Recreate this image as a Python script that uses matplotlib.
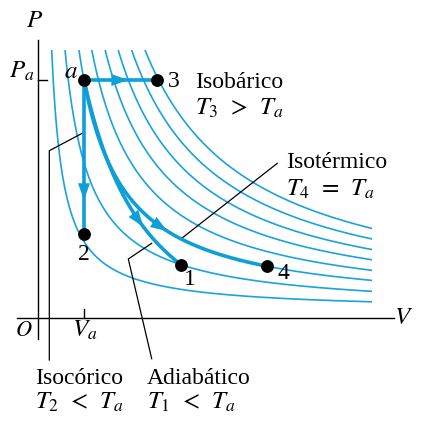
import numpy as np
import matplotlib
matplotlib.use('Agg')
import matplotlib.pyplot as plt

plt.rcParams['font.family'] = ['Liberation Serif', 'DejaVu Serif']
plt.rcParams['mathtext.fontset'] = 'stix'

# ---------------- data (schematic units) ----------------
isotherm_k = [30.5, 65.3, 101.6, 135.0, 170.0, 204.0, 239.0, 274.0]
P_top = 26.1        # isotherms start at this pressure
V_end = 33.2        # isotherms end at this volume
Va, Pa = 4.4, 23.1  # state a
V3 = 11.7           # isobaric end
P2 = 7.7            # isochoric end
V1 = 14.1           # adiabatic end
V4 = 22.7           # isothermal end
# drawn adiabat: (V + v_off)^gamma * (P + p_off) = const
gamma = 1.32
v_off, p_off = 4.0, 5.9

point_labels = ['a', '3', '2', '1', '4']
process_labels = [('Isobárico', r'$T_3\,\;>\,\;T_a$'),
                  ('Isotérmico', r'$T_4\,\;=\,\;T_a$'),
                  ('Isocórico', r'$T_2\,\;<\,\;T_a$'),
                  ('Adiabático', r'$T_1\,\;<\,\;T_a$')]

thin_c = '#1aa3dc'
thick_c = '#0e9fd9'
FS = 17
FSM = 18

fig = plt.figure(figsize=(4.28, 4.34), dpi=100)
ax = fig.add_axes([0, 0, 1, 1])
ax.set_xlim(-4, 38.8)
ax.set_ylim(-12.3, 31.1)
ax.axis('off')

# isotherms
for k in isotherm_k:
    v = np.linspace(k / P_top, V_end, 400)
    ax.plot(v, k / v, color=thin_c, lw=1.2, solid_capstyle='butt')

# processes
C_ad = (Va + v_off) ** gamma * (Pa + p_off)
def adiabat(v):
    return C_ad / (v + v_off) ** gamma - p_off

P1 = adiabat(V1)
P4 = Pa * Va / V4
v_iso = np.linspace(Va, V4, 300)
p_iso = Pa * Va / v_iso
v_ad = np.linspace(Va, V1, 300)
p_ad = adiabat(v_ad)
v_bar = np.array([Va, V3]); p_bar = np.array([Pa, Pa])
v_cho = np.array([Va, Va]); p_cho = np.array([Pa, P2])

for vv, pp in [(v_iso, p_iso), (v_ad, p_ad), (v_bar, p_bar), (v_cho, p_cho)]:
    ax.plot(vv, pp, color=thick_c, lw=2.6, solid_capstyle='butt', zorder=3)

def arrow_at(vv, pp, tip_v=None, tip_p=None):
    if tip_v is not None:
        i = np.argmin(np.abs(vv - tip_v))
    else:
        i = np.argmin(np.abs(pp - tip_p))
    j = max(i - 8, 0)
    ax.annotate('', xy=(vv[i], pp[i]), xytext=(vv[j], pp[j]),
                arrowprops=dict(arrowstyle='-|>,head_length=0.5,head_width=0.18',
                                color=thick_c, lw=0, mutation_scale=24,
                                shrinkA=0, shrinkB=0), zorder=4)

arrow_at(np.linspace(Va, V3, 200), np.full(200, Pa), tip_v=8.8)
arrow_at(np.full(200, Va), np.linspace(Pa, P2, 200), tip_p=11.1)
arrow_at(v_ad, p_ad, tip_v=10.35)
arrow_at(v_iso, p_iso, tip_v=12.7)

# state points
pts_v = [Va, V3, Va, V1, V4]
pts_p = [Pa, Pa, P2, P1, P4]
ax.plot(pts_v, pts_p, 'o', color='black', ms=8.2, zorder=5)

# axes lines
ax.plot([-0.2, -0.2], [-2.8, 27.1], color='black', lw=1.0)
ax.plot([-2.3, 35.4], [-0.65, -0.65], color='black', lw=1.0)
ax.plot([-0.2, 0.7], [Pa, Pa], color='black', lw=1.0)
ax.plot([Va, Va], [-0.65, 0.25], color='black', lw=1.0)

# leader lines
ax.plot([4.33, 0.93, 0.93], [17.83, 16.03, -4.9], color='black', lw=0.9)
ax.plot([11.17, 8.83, 11.17], [6.77, 5.2, -4.77], color='black', lw=0.9)
ax.plot([23.73, 14.17], [14.77, 7.27], color='black', lw=0.9)

# axis labels
ax.text(-0.5, 29.0, r'$P$', fontsize=FSM, ha='center', va='center')
ax.text(-0.5, 23.3, r'$P_a$', fontsize=FSM, ha='right', va='baseline')
ax.text(36.4, -0.7, r'$V$', fontsize=FSM, ha='center', va='center')
ax.text(-1.6, -2.0, r'$O$', fontsize=FS - 1, ha='center', va='center')
ax.text(4.5, -2.6, r'$V_a$', fontsize=FSM, ha='center', va='baseline')

# point labels
ax.text(3.1, 23.3, r'$' + point_labels[0] + '$', fontsize=FSM, ha='center', va='baseline')
ax.text(13.4, 22.4, point_labels[1], fontsize=FS, ha='center', va='baseline')
ax.text(4.4, 5.1, point_labels[2], fontsize=FS, ha='center', va='baseline')
ax.text(15.0, 2.6, point_labels[3], fontsize=FS, ha='center', va='baseline')
ax.text(23.7, 3.2, point_labels[4], fontsize=FS, ha='left', va='baseline')

# process labels
pos = [(15.5, 22.3, 19.6), (24.6, 14.3, 11.5), (-0.5, -7.3, -9.8), (10.7, -7.3, -9.8)]
for (name, rel), (x, y1, y2) in zip(process_labels, pos):
    ax.text(x, y1, name, fontsize=FS, ha='left', va='baseline')
    ax.text(x, y2, rel, fontsize=FSM, ha='left', va='baseline')

fig.savefig('out.png', dpi=100)
